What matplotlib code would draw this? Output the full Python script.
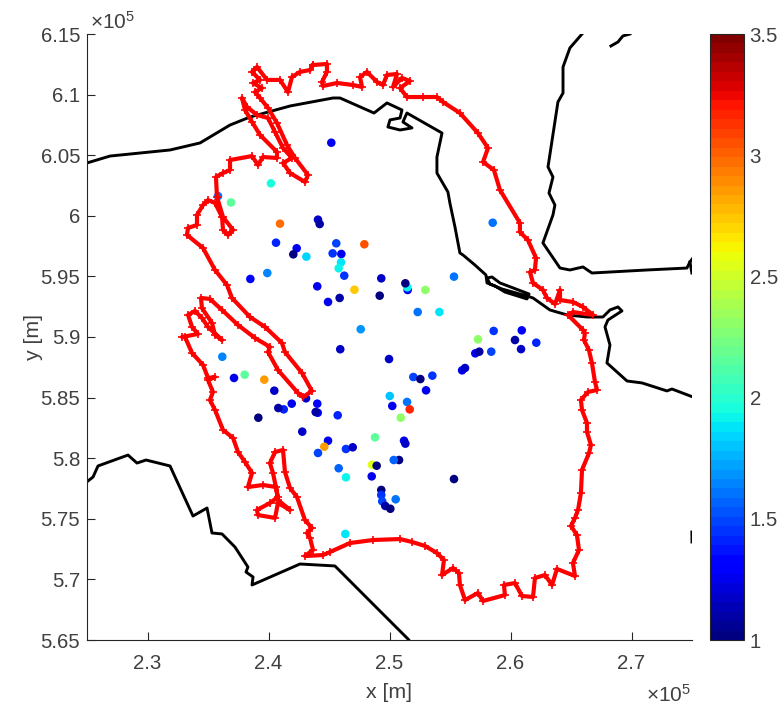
import numpy as np
import matplotlib
matplotlib.use("Agg")
import matplotlib.pyplot as plt

plt.rcParams['font.family'] = ['Liberation Sans', 'DejaVu Sans']
plt.rcParams['mathtext.fontset'] = 'custom'
plt.rcParams['mathtext.rm'] = 'Liberation Sans'
plt.rcParams['mathtext.it'] = 'Liberation Sans'

# measurement points, km
pts_x = [245.19, 240.2, 236.9, 235.83, 240.95, 244.09, 244.23, 240.62, 245.6, 247.92,
         242.33, 242.05, 243.13, 245.3, 246.02, 245.99, 245.8, 246.26, 238.5, 239.9,
         244.03, 247.1, 249.32, 251.5, 251.47, 251.31, 252.96, 255.33, 249.19, 245.88,
         244.92, 252.33, 254.12, 247.62, 245.93, 258.53, 258.61, 260.93, 257.31, 260.37,
         262.13, 260.87, 258.41, 257.09, 257.42, 256.0, 256.24, 251.97, 252.55, 253.54,
         253.02, 251.45, 251.67, 250.93, 251.2, 251.31, 250.79, 250.35, 255.33, 236.18,
         249.96, 238.03, 237.15, 239.65, 240.48, 243.1, 244.03, 241.92, 241.26, 240.81,
         244.07, 243.9, 239.16, 245.72, 250.02, 250.23, 242.79, 248.8, 244.92, 244.61,
         244.09, 246.4, 246.96, 245.8, 248.55, 248.94, 246.4, 248.53, 249.32, 249.32,
         249.4, 249.65, 250.07, 250.51, 246.35]
pts_y = [606.03, 602.68, 601.1, 601.63, 599.35, 599.68, 599.32, 597.78, 597.73, 597.65,
         597.32, 596.82, 596.63, 596.9, 596.85, 596.16, 595.67, 595.06, 594.79, 595.28,
         594.18, 593.9, 594.84, 593.88, 594.1, 594.43, 593.88, 594.98, 593.41, 593.22,
         592.89, 592.06, 592.06, 590.64, 588.99, 599.43, 590.5, 590.55, 589.81, 589.75,
         589.53, 589.0, 588.79, 588.65, 588.79, 587.25, 587.44, 586.7, 586.53, 586.81,
         585.6, 584.64, 584.03, 583.34, 581.44, 581.2, 579.85, 579.85, 578.28, 588.37,
         588.18, 586.89, 586.62, 586.48, 585.57, 584.94, 584.5, 584.5, 584.03, 584.14,
         583.75, 583.81, 583.34, 583.54, 585.13, 584.31, 582.19, 581.72, 581.44, 580.95,
         580.43, 580.76, 580.9, 579.17, 579.46, 579.38, 578.42, 578.5, 577.38, 576.96,
         576.44, 576.06, 575.83, 576.61, 573.75]
pts_v = [1.25, 1.97, 2.15, 1.62, 2.97, 1.18, 1.1, 1.4, 1.5, 3.05,
         1.25, 1.03, 1.85, 1.45, 1.25, 1.88, 1.92, 1.45, 1.3, 1.65,
         1.25, 2.72, 1.18, 1.25, 1.92, 1.03, 2.3, 1.62, 1.03, 1.1,
         1.25, 1.62, 1.88, 1.7, 1.18, 1.62, 1.45, 1.3, 2.3, 1.1,
         1.4, 1.18, 1.5, 1.25, 1.1, 1.25, 1.18, 1.5, 1.03, 1.45,
         1.25, 1.62, 3.15, 2.3, 1.25, 1.18, 1.03, 1.55, 1.03, 1.65,
         1.18, 2.15, 1.25, 2.85, 1.18, 1.18, 1.3, 1.25, 1.4, 1.1,
         1.3, 1.1, 1.03, 1.4, 1.8, 1.25, 1.18, 2.15, 1.25, 2.85,
         1.5, 1.45, 1.18, 1.55, 2.55, 1.03, 1.92, 1.25, 1.03, 1.45,
         1.5, 1.1, 1.03, 1.62, 1.88]

# domain boundary, km
red_x = [243.68, 244.83, 244.83, 244.42, 244.50, 245.66, 246.98, 247.73, 247.56, 248.14,
         248.97, 249.46, 249.79, 250.62, 250.29, 251.03, 251.69, 250.87, 251.44, 252.77,
         253.92, 254.42, 255.82, 257.31, 258.14, 257.73, 258.63, 259.13, 260.78, 260.78,
         261.44, 262.11, 262.02, 261.61, 261.86, 262.68, 263.01, 263.68, 264.09, 264.09,
         265.16, 265.99, 266.82, 265.16, 264.75, 265.99, 266.15, 266.07, 266.48, 266.73,
         266.98, 267.15, 266.40, 265.82, 265.91, 266.32, 266.32, 266.65, 266.49, 265.91,
         265.82, 265.58, 265.33, 265.00, 265.49, 265.66, 265.16, 265.33, 263.84, 263.43,
         262.85, 262.02, 261.86, 260.95, 260.37, 259.46, 259.54, 257.73, 257.31, 256.24,
         255.82, 255.74, 255.25, 254.34, 254.50, 253.92, 252.93, 251.86, 250.87, 248.64,
         246.73, 245.08, 244.50, 243.01, 243.68, 243.43, 243.18, 243.59, 243.01, 242.35,
         241.78, 241.36, 241.20, 240.54, 240.12, 240.37, 240.78, 240.12, 239.05, 239.13,
         240.54, 240.78, 241.78, 240.78, 240.62, 239.54, 238.30, 238.64, 238.06, 237.48,
         237.07, 236.24, 235.58, 235.16, 235.41, 235.00, 235.58, 235.00, 234.59, 233.68,
         233.10, 232.85, 234.17, 233.68, 233.35, 233.93, 234.50, 235.00, 236.16, 235.58,
         235.33, 234.50, 234.42, 235.16, 236.16, 237.48, 238.88, 240.12, 239.96, 240.78,
         242.44, 242.85, 243.59, 242.77, 241.36, 241.11, 239.71, 238.47, 236.98, 236.57,
         235.58, 234.59, 233.26, 233.35, 234.09, 234.09, 234.59, 235.00, 235.58, 236.16,
         236.24, 236.65, 237.07, 236.24, 235.74, 235.66, 236.24, 236.82, 236.82, 238.64,
         239.13, 239.54, 240.70, 240.70, 239.30, 238.64, 238.06, 237.81, 238.22, 239.05,
         239.96, 240.54, 241.20, 241.94, 241.20, 241.78, 243.02, 243.26, 242.19, 241.53,
         240.70, 239.96, 239.30, 238.88, 239.46, 238.72, 239.30, 238.64, 239.05, 239.88,
         240.95, 241.61, 241.94, 242.60, 243.43, 243.68]
red_y = [612.44, 612.53, 611.87, 611.04, 610.71, 610.96, 610.79, 610.63, 611.45, 611.87,
         611.04, 610.79, 611.62, 611.70, 610.63, 611.37, 611.12, 610.54, 609.80, 609.80,
         609.80, 609.39, 608.48, 606.83, 605.59, 604.44, 603.78, 602.13, 599.41, 598.66,
         598.00, 596.52, 595.53, 595.36, 594.46, 593.88, 593.22, 592.72, 593.88, 593.05,
         592.89, 592.48, 591.82, 592.06, 591.82, 590.58, 590.33, 589.75, 588.93, 587.86,
         586.29, 585.63, 585.46, 584.80, 583.98, 582.90, 582.16, 581.09, 580.43, 579.03,
         577.13, 575.73, 575.07, 574.41, 573.66, 572.43, 571.35, 570.28, 570.86, 569.54,
         570.36, 570.12, 568.55, 568.63, 569.70, 569.54, 568.71, 568.22, 568.88, 568.30,
         569.54, 570.53, 570.94, 570.36, 571.60, 572.18, 572.76, 573.09, 573.33, 573.25,
         573.00, 572.26, 572.01, 571.93, 572.43, 573.42, 573.83, 574.24, 574.90, 576.80,
         577.54, 578.86, 580.68, 580.51, 579.60, 578.78, 576.80, 576.30, 575.73, 575.31,
         575.07, 576.30, 575.73, 576.55, 577.62, 577.79, 577.62, 578.78, 579.69, 580.51,
         581.67, 582.33, 583.98, 584.80, 585.46, 586.45, 586.70, 586.62, 587.69, 588.68,
         590.00, 590.00, 590.25, 590.83, 591.82, 592.15, 591.57, 590.83, 589.75, 590.17,
         591.16, 592.39, 593.22, 593.14, 592.23, 590.99, 589.92, 589.18, 588.76, 587.28,
         585.38, 585.05, 585.54, 587.03, 588.76, 589.51, 590.83, 591.65, 593.22, 594.29,
         595.53, 597.34, 598.42, 599.00, 599.24, 600.07, 600.89, 601.30, 601.06, 599.90,
         598.83, 598.42, 598.83, 599.90, 601.55, 603.20, 603.53, 603.78, 604.60, 604.93,
         604.19, 604.85, 604.77, 605.27, 606.67, 607.74, 608.73, 609.72, 608.98, 608.32,
         608.07, 606.91, 605.59, 604.77, 604.36, 603.53, 602.79, 603.37, 604.77, 605.84,
         607.66, 608.90, 609.72, 610.21, 610.54, 610.96, 611.21, 611.87, 612.28, 611.21,
         611.21, 610.21, 611.45, 611.87, 612.03, 612.44]

# coast lines, km
north_x = [225.00, 226.90, 231.86, 234.34, 235.58, 236.82, 238.47, 241.78, 245.33, 245.91,
           248.72, 249.79, 251.03, 250.87, 250.04, 249.87, 250.87, 251.86, 251.11, 251.44,
           254.34, 253.92, 253.92, 254.83, 254.99, 255.41, 255.82, 256.07, 257.06, 257.97,
           258.06, 258.72, 259.54, 261.36, 261.53, 259.13, 258.47, 258.06, 258.30, 259.30,
           261.36, 261.86, 263.26, 264.67, 266.32, 267.64, 268.22, 268.88, 269.21, 268.05,
           267.81, 268.22, 267.97, 269.63, 270.87, 272.93, 273.34, 275.08]
north_y = [604.36, 604.93, 605.43, 606.01, 606.75, 607.49, 608.15, 609.06, 609.72, 609.72,
           608.48, 609.31, 608.73, 608.07, 607.91, 607.33, 607.08, 607.25, 607.74, 608.48,
           606.83, 604.85, 603.53, 601.96, 601.06, 599.08, 596.93, 596.77, 595.94, 595.12,
           594.46, 594.21, 593.71, 593.14, 593.55, 594.46, 594.95, 594.87, 594.37, 593.96,
           593.38, 593.22, 592.23, 591.82, 591.65, 591.65, 592.23, 592.48, 592.15, 591.40,
           590.83, 589.34, 587.86, 586.37, 586.21, 585.55, 585.71, 585.05]
east_x = [265.91, 264.91, 264.34, 264.34, 263.92, 263.10, 263.51, 263.18, 263.67, 263.51,
          262.68, 264.09, 264.91, 265.99, 266.73, 271.28, 274.58, 274.83, 275.08]
east_y = [615.00, 613.85, 612.28, 610.13, 609.39, 604.03, 603.20, 601.88, 600.89, 600.07,
          597.76, 595.69, 595.53, 595.78, 595.28, 595.53, 595.69, 596.19, 596.52]
south_x = [225.08, 225.50, 225.91, 228.39, 229.13, 229.88, 231.86, 233.76, 234.92, 235.33,
           236.16, 237.23, 238.30, 238.14, 238.72, 238.64, 242.60, 245.49, 248.55, 251.53, 251.86]
south_y = [578.12, 578.45, 579.36, 580.26, 579.60, 579.85, 579.36, 575.23, 575.89, 573.83,
           573.75, 572.67, 571.02, 570.61, 570.20, 569.54, 571.27, 571.11, 568.05, 565.08, 564.67]
stub_x = [274.83, 274.99]
stub_y = [596.19, 595.28]
bit_x = [268.30, 268.88, 269.29, 269.87]
bit_y = [614.01, 614.34, 614.84, 615.00]
edge_x = [274.99, 275.00]
edge_y = [573.91, 573.09]

xticks = [2.3, 2.4, 2.5, 2.6, 2.7]
yticks = [5.65, 5.7, 5.75, 5.8, 5.85, 5.9, 5.95, 6.0, 6.05, 6.1, 6.15]
cticks = [1, 1.5, 2, 2.5, 3, 3.5]

grey = '#404040'
W, H = 783, 709

fig = plt.figure(figsize=(W / 100, H / 100), dpi=100)
ax = fig.add_axes([87 / W, (H - 640) / H, 605 / W, 606 / H])

km = 1000.0
sc = ax.scatter(np.array(pts_x) * km, np.array(pts_y) * km, c=pts_v, s=38,
                cmap=plt.get_cmap('jet', 64), vmin=1, vmax=3.5, linewidths=0, zorder=2)

for lx, ly in [(north_x, north_y), (east_x, east_y), (south_x, south_y),
               (stub_x, stub_y), (bit_x, bit_y), (edge_x, edge_y)]:
    ax.plot(np.array(lx) * km, np.array(ly) * km, color='k', lw=2.1, zorder=1)

ax.plot(np.array(red_x) * km, np.array(red_y) * km, color='#ff0000', lw=3.0,
        marker='+', ms=6, mew=1.2, zorder=3)

ax.set_xlim(225000, 275000)
ax.set_ylim(565000, 615000)
ax.set_xticks([v * 1e5 for v in xticks])
ax.set_xticklabels(['%g' % v for v in xticks])
ax.set_yticks([v * 1e5 for v in yticks])
ax.set_yticklabels(['%g' % v for v in yticks])
ax.tick_params(direction='in', length=6, width=0.8, color='#262626', labelcolor=grey,
               labelsize=14.7)
ax.tick_params(axis='x', pad=10)
ax.tick_params(axis='y', pad=5)
ax.spines['top'].set_visible(False)
ax.spines['right'].set_visible(False)
for side in ['left', 'bottom']:
    ax.spines[side].set_color('#262626')
    ax.spines[side].set_linewidth(0.8)

ax.set_xlabel('x [m]', fontsize=15.3, color=grey, labelpad=7)
ax.set_ylabel('y [m]', fontsize=15.3, color=grey, labelpad=-2)

fig.text(90 / W, (H - 22) / H, r'$\times 10^{5}$', fontsize=15, color=grey, ha='left', va='center')
fig.text(646 / W, (H - 695) / H, r'$\times 10^{5}$', fontsize=15, color=grey, ha='left', va='center')

cax = fig.add_axes([710 / W, (H - 640) / H, 34 / W, 606 / H])
cb = fig.colorbar(sc, cax=cax, ticks=cticks)
cb.ax.set_yticklabels(['%g' % v for v in cticks])
cb.ax.tick_params(length=0, labelcolor=grey, labelsize=14.7, pad=4)
cb.outline.set_edgecolor('#262626')
cb.outline.set_linewidth(0.8)

fig.savefig('out.png', dpi=100)
